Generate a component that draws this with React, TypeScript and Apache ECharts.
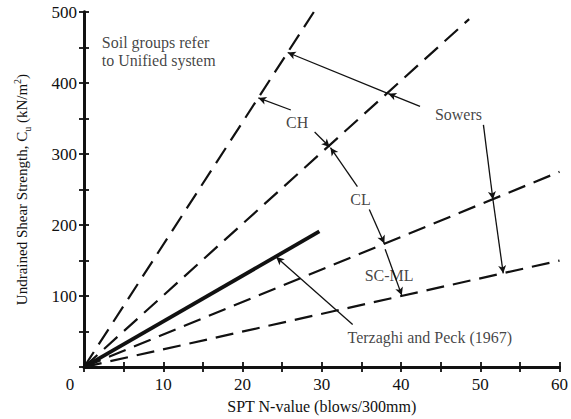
import React, { useEffect, useRef } from "react";
import * as echarts from "echarts";

const FONT = '"Liberation Serif", "Times New Roman", serif';
const INK = "#111111";

// Correlation lines (SPT N -> Cu), each from origin to its end point
const lineNames = ["CH", "CL", "Terzaghi and Peck (1967)", "SC-ML", "Sowers lower"];
const lineEndN = [29, 48.6, 29.7, 60, 60];
const lineEndCu = [500, 490, 191, 275, 150];
const lineDashed = [true, true, false, true, true];

// Axis tick labels
const xTickLabels = [0, 10, 20, 30, 40, 50, 60];
const yTickLabels = [100, 200, 300, 400, 500];

// Annotation texts (data coordinates)
const noteTexts = [
  "Soil groups refer\nto Unified system",
  "CH",
  "CL",
  "SC-ML",
  "Sowers",
  "Terzaghi and Peck (1967)",
];
const noteN = [2.25, 26.9, 34.9, 38.5, 47.25, 33.25];
const noteCu = [445, 344, 236, 129, 355, 42];
const noteLeftAligned = [true, false, false, false, false, true];

// Leader arrows (data coordinates), arrowhead at "to"
const arrowFromN = [26.1, 29.1, 34.5, 36, 38, 42.4, 38.4, 50.4, 51.6, 33.9];
const arrowFromCu = [362, 331, 254, 222, 166, 367, 385, 341, 236, 60];
const arrowToN = [22, 31, 31.1, 37.9, 40.1, 38.4, 25.7, 51.6, 52.9, 24.25];
const arrowToCu = [379, 310, 309, 174, 101, 385, 443, 236, 132, 155];

export default function App() {
  const ref = useRef<HTMLDivElement>(null);

  useEffect(() => {
    if (!ref.current) return;
    const chart = echarts.init(ref.current, undefined, { renderer: "svg" });

    const axisLine = { show: true, lineStyle: { color: INK, width: 2.8 } };
    const axisTick = { show: true, inside: true, length: 5, lineStyle: { color: INK, width: 1.8 } };

    const lineSeries = lineNames.map((name, i) => ({
      type: "line",
      name,
      data: [
        [0, 0],
        [lineEndN[i], lineEndCu[i]],
      ],
      showSymbol: false,
      symbol: "none",
      silent: true,
      xAxisIndex: 0,
      yAxisIndex: 0,
      lineStyle: lineDashed[i]
        ? { color: INK, width: 2.2, type: [18, 9] }
        : { color: INK, width: 3.8, type: "solid" },
      z: 3,
    }));

    const notesSeries = {
      type: "scatter",
      name: "notes",
      xAxisIndex: 0,
      yAxisIndex: 0,
      symbolSize: 0,
      silent: true,
      z: 5,
      data: noteTexts.map((t, i) => ({
        value: [noteN[i], noteCu[i]],
        name: t,
        label: {
          show: true,
          position: noteLeftAligned[i] ? "right" : "inside",
          distance: 0,
          formatter: t,
          fontFamily: FONT,
          fontSize: 16,
          lineHeight: 18,
          color: INK,
          align: noteLeftAligned[i] ? "left" : "center",
        },
      })),
      markLine: {
        silent: true,
        symbol: ["none", "arrow"],
        symbolSize: [6, 8],
        label: { show: false },
        lineStyle: { color: INK, width: 1.3, type: "solid" },
        data: arrowFromN.map((_, i) => [
          { coord: [arrowFromN[i], arrowFromCu[i]] },
          { coord: [arrowToN[i], arrowToCu[i]] },
        ]),
      },
    };

    chart.setOption({
      animation: false,
      backgroundColor: "#ffffff",
      grid: { left: 84, top: 12, right: 7, bottom: 51, containLabel: false },
      xAxis: [
        {
          type: "value",
          min: 0,
          max: 60,
          interval: 5,
          position: "bottom",
          axisLine,
          axisTick,
          splitLine: { show: false },
          axisLabel: {
            margin: 9,
            fontFamily: FONT,
            fontSize: 17,
            color: INK,
            formatter: (v: number) =>
              xTickLabels.includes(v) ? (v === 0 ? "{z|0}" : String(v)) : "",
            rich: { z: { padding: [0, 28, 0, 0], fontFamily: FONT, fontSize: 17, color: INK } },
          },
          name: "SPT N-value (blows/300mm)",
          nameLocation: "middle",
          nameGap: 28,
          nameTextStyle: { fontFamily: FONT, fontSize: 16, color: INK },
        },
        {
          type: "value",
          min: 0,
          max: 60,
          interval: 5,
          position: "top",
          axisLine,
          axisTick,
          splitLine: { show: false },
          axisLabel: { show: false },
        },
      ],
      yAxis: [
        {
          type: "value",
          min: 0,
          max: 500,
          interval: 50,
          position: "left",
          axisLine,
          axisTick,
          splitLine: { show: false },
          axisLabel: {
            margin: 7,
            fontFamily: FONT,
            fontSize: 17,
            color: INK,
            formatter: (v: number) => (yTickLabels.includes(v) ? String(v) : ""),
          },
          name: "{n|Undrained Shear Strength, C}{s|u}{n| (kN/m}{p|2}{n|)}",
          nameLocation: "middle",
          nameRotate: 90,
          nameGap: 52,
          nameTextStyle: {
            fontFamily: FONT,
            fontSize: 15,
            color: INK,
            rich: {
              n: { fontFamily: FONT, fontSize: 15, lineHeight: 20, color: INK },
              s: { fontFamily: FONT, fontSize: 10, lineHeight: 20, verticalAlign: "bottom", color: INK },
              p: { fontFamily: FONT, fontSize: 10, lineHeight: 20, verticalAlign: "top", color: INK },
            },
          },
        },
        {
          type: "value",
          min: 0,
          max: 500,
          interval: 50,
          position: "right",
          axisLine,
          axisTick,
          splitLine: { show: false },
          axisLabel: { show: false },
        },
      ],
      series: [...lineSeries, notesSeries],
    });

    return () => chart.dispose();
  }, []);

  return (
    <div
      ref={ref}
      style={{ position: "fixed", left: 0, top: 0, width: 571, height: 419, background: "#fff" }}
    />
  );
}
